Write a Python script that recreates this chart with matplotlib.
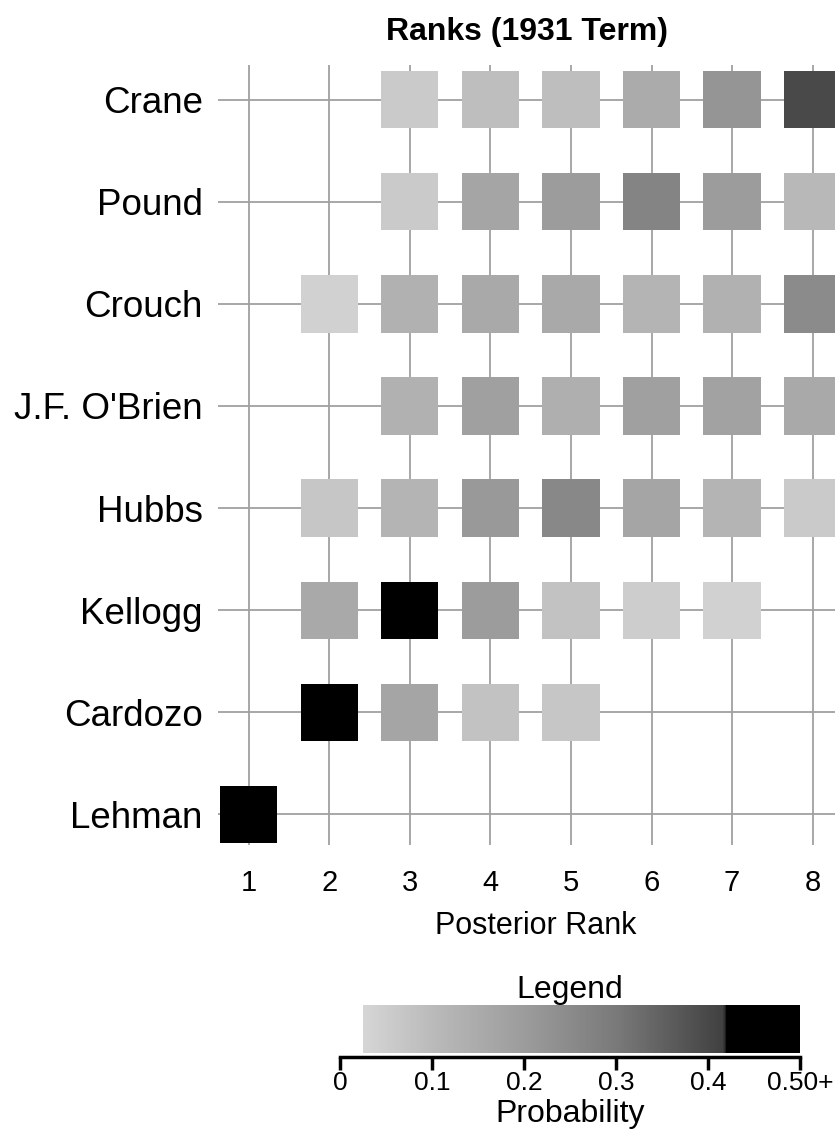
import numpy as np
import matplotlib
matplotlib.use("Agg")
import matplotlib.pyplot as plt
from matplotlib.colors import LinearSegmentedColormap, Normalize

plt.rcParams["font.family"] = ["Liberation Sans", "DejaVu Sans"]

# rows bottom -> top
JUSTICES = ["Lehman", "Cardozo", "Kellogg", "Hubbs", "J.F. O'Brien",
            "Crouch", "Pound", "Crane"]
RANKS = [1, 2, 3, 4, 5, 6, 7, 8]

# posterior probability of holding each rank (0 = no square drawn)
LEHMAN = [1.00, 0, 0, 0, 0, 0, 0, 0]
CARDOZO = [0, 0.70, 0.17, 0.08, 0.07, 0, 0, 0]
KELLOGG = [0, 0.16, 0.46, 0.20, 0.08, 0.05, 0.04, 0]
HUBBS = [0, 0.07, 0.12, 0.21, 0.26, 0.17, 0.12, 0.06]
OBRIEN = [0, 0, 0.13, 0.19, 0.14, 0.19, 0.18, 0.16]
CROUCH = [0, 0.04, 0.13, 0.16, 0.16, 0.12, 0.13, 0.25]
POUND = [0, 0, 0.06, 0.17, 0.20, 0.27, 0.20, 0.11]
CRANE = [0, 0, 0.06, 0.09, 0.09, 0.15, 0.22, 0.40]
PROBS = [LEHMAN, CARDOZO, KELLOGG, HUBBS, OBRIEN, CROUCH, POUND, CRANE]

LEGEND_TICKS = [0, 0.1, 0.2, 0.3, 0.4, 0.5]
LEGEND_LABELS = ["0", "0.1", "0.2", "0.3", "0.4", "0.50+"]

# grey scale: light grey at 0.025 up to dark grey at ~0.42, black beyond
norm = Normalize(vmin=0.025, vmax=0.5)
cmap = LinearSegmentedColormap.from_list("rank_grey", [
    (0.00, "#d6d6d6"),
    (0.16, "#bababa"),
    (0.37, "#9c9c9c"),
    (0.58, "#7a7a7a"),
    (0.83, "#404040"),
    (0.835, "#000000"),
    (1.00, "#000000"),
])
cmap.set_over("black")

fig = plt.figure(figsize=(8.35, 11.3), dpi=100)

# main grid of squares (axes runs past the right edge, like the source)
ax = fig.add_axes([218 / 835, 1 - 845 / 1130, 635 / 835, 780 / 1130])
xs, ys, cs = [], [], []
for row, probs in enumerate(PROBS, start=1):
    for rank, p in zip(RANKS, probs):
        if p > 0:
            xs.append(rank)
            ys.append(row)
            cs.append(cmap(norm(p)))
ax.scatter(xs, ys, s=1700, marker="s", c=cs, linewidths=0, zorder=3)

ax.set_xlim(0.62, 8.5)
ax.set_ylim(0.70, 8.34)
ax.set_xticks(RANKS)
ax.set_yticks(range(1, len(JUSTICES) + 1))
ax.set_yticklabels(JUSTICES, fontsize=26.5)
ax.tick_params(axis="x", length=0, pad=17, labelsize=21)
ax.tick_params(axis="y", length=0, pad=11)
ax.grid(True, color="#a0a0a0", linewidth=1.3, zorder=0)
ax.set_axisbelow(True)
for s in ax.spines.values():
    s.set_visible(False)
ax.set_xlabel("Posterior Rank", fontsize=22, labelpad=10)
ax.set_title("Ranks (1931 Term)", fontsize=23, fontweight="bold",
             pad=18, x=0.487)

# legend bar
lax = fig.add_axes([340 / 835, 1 - 1057 / 1130, 460 / 835, 52 / 1130])
grad = np.linspace(0.025, 0.5, 200).reshape(1, -1)
lax.imshow(grad, cmap=cmap, norm=norm, aspect="auto",
           extent=[0.025, 0.5, 0.08, 1.0])
lax.set_xlim(0, 0.5)
lax.set_ylim(0, 1)
lax.set_yticks([])
lax.set_xticks(LEGEND_TICKS)
lax.set_xticklabels(LEGEND_LABELS, fontsize=19)
lax.tick_params(axis="x", direction="out", length=9, width=2.5, pad=1)
for side in ["top", "left", "right"]:
    lax.spines[side].set_visible(False)
lax.spines["bottom"].set_linewidth(2.5)
lax.set_title("Legend", fontsize=23, pad=1)
lax.set_xlabel("Probability", fontsize=23, labelpad=3)

fig.savefig("out.png", dpi=100)
